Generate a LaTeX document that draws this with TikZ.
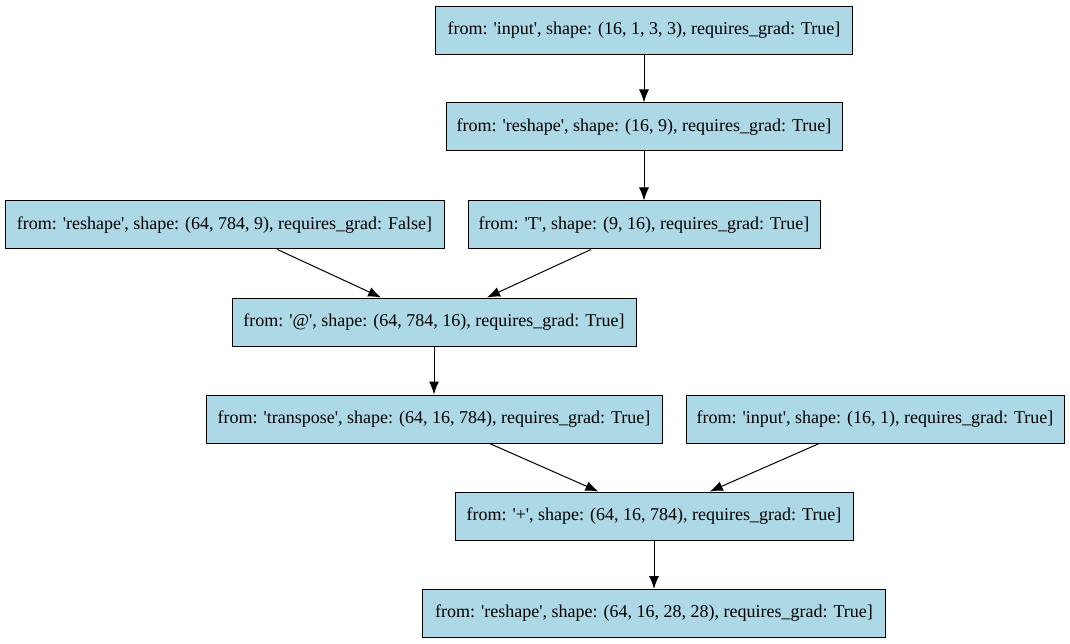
\documentclass[tikz,border=0pt]{standalone}
\usepackage{fontspec}
\setmainfont{Liberation Serif}
\usetikzlibrary{arrows.meta}
\newcommand{\sq}{\textquotesingle}

\begin{document}
\begin{tikzpicture}[x=1pt, y=-1pt,
    tensorbox/.style={rectangle, draw, line width=1pt, fill={rgb,255:red,173;green,216;blue,230},
        minimum height=48pt, inner sep=0pt, font=\fontsize{18}{20}\selectfont},
    flow/.style={-{Latex[length=13pt, width=10pt]}, line width=1pt}]
        \useasboundingbox (0,0) rectangle (1070,644);
        % Nodes
        \node[tensorbox, minimum width=417pt] (1) at (644, 30.5) {from: \sq input\sq, shape: (16, 1, 3, 3), requires\_grad: True]};
        \node[tensorbox, minimum width=396pt] (2) at (644, 127) {from: \sq reshape\sq, shape: (16, 9), requires\_grad: True]};
        \node[tensorbox, minimum width=439pt] (3) at (224.5, 225) {from: \sq reshape\sq, shape: (64, 784, 9), requires\_grad: False]};
        \node[tensorbox, minimum width=352pt] (4) at (644, 225) {from: \sq T\sq, shape: (9, 16), requires\_grad: True]};
        \node[tensorbox, minimum width=404pt] (5) at (434, 322) {from: \sq @\sq, shape: (64, 784, 16), requires\_grad: True]};
        \node[tensorbox, minimum width=456pt] (6) at (434, 419) {from: \sq transpose\sq, shape: (64, 16, 784), requires\_grad: True]};
        \node[tensorbox, minimum width=378pt] (7) at (875, 419) {from: \sq input\sq, shape: (16, 1), requires\_grad: True]};
        \node[tensorbox, minimum width=398pt] (8) at (654, 516) {from: \sq +\sq, shape: (64, 16, 784), requires\_grad: True]};
        \node[tensorbox, minimum width=463pt] (9) at (654, 613.5) {from: \sq reshape\sq, shape: (64, 16, 28, 28), requires\_grad: True]};

        % Edges
        \draw[flow] (1) -- (2);
        \draw[flow] (2) -- (4);
        \draw[flow] (3) -- (5);
        \draw[flow] (4) -- (5);
        \draw[flow] (5) -- (6);
        \draw[flow] (6) -- (8);
        \draw[flow] (7) -- (8);
        \draw[flow] (8) -- (9);
    \end{tikzpicture}
\end{document}
